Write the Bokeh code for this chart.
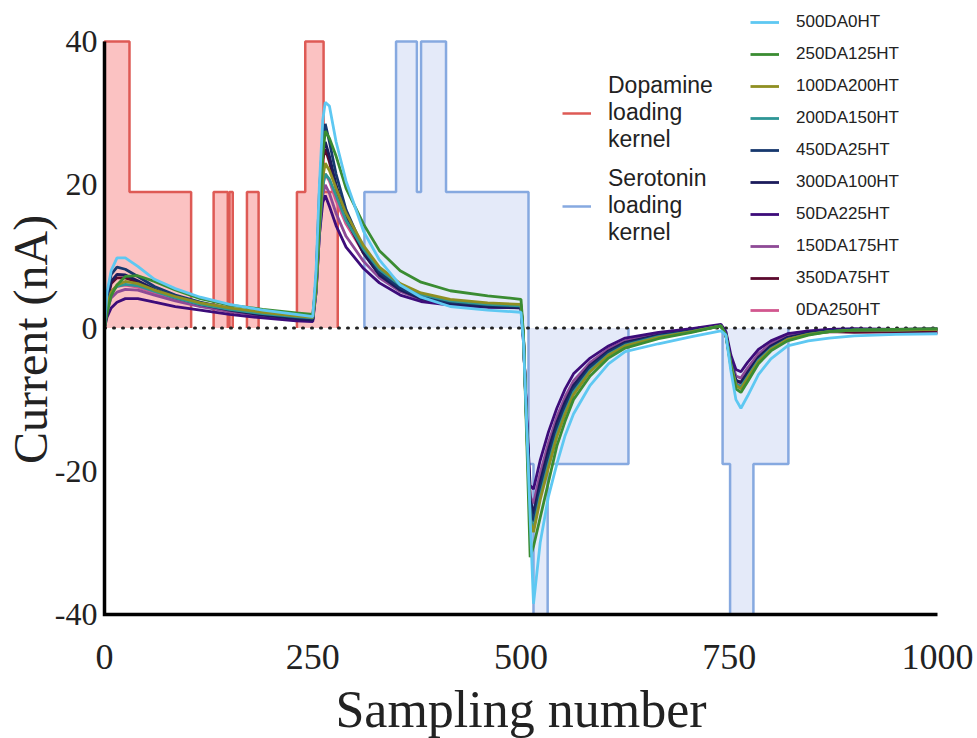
import math

from bokeh.embed import file_html
from bokeh.models import Label, Legend, LegendItem, Range1d
from bokeh.plotting import figure
from bokeh.resources import INLINE

# ---------------------------------------------------------------- data
# sampling positions at which each current trace is tabulated
SAMPLES = [0, 3, 8, 15, 25, 40, 60, 85, 115, 150,
           190, 230, 250, 254, 258, 262, 265, 270, 278, 290,
           311, 330, 355, 380, 415, 460, 500, 503, 507, 511,
           515, 523, 533, 543, 553, 563, 583, 605, 625, 665,
           705, 740, 746, 752, 758, 764, 772, 785, 800, 820,
           845, 870, 900, 950, 1000]

# current (nA) for each mixture, DA / 5-HT concentrations in the name
I_500DA0HT = [0, 5, 8, 9.8, 9.8, 8.6, 6.8, 5.5, 4.3, 3.3,
              2.5, 1.9, 1.6, 8, 20, 29, 31.5, 31, 26, 20.5,
              13.5, 9.5, 6, 4.3, 3, 2.5, 2.2, -2, -14, -26.5,
              -38.5, -30, -23.5, -19, -15, -12, -8, -5, -3.3, -2.2,
              -1.2, -0.4, -1, -6, -10, -11.2, -9.5, -6.5, -4.3, -2.5,
              -1.8, -1.4, -1.1, -0.9, -0.8]
I_250DA125HT = [0, 2, 4.5, 6, 7.2, 7.3, 6.5, 5.3, 4.1, 3.2,
                2.6, 2.1, 1.9, 6, 15, 24, 27.5, 26.5, 24, 19.5,
                14.5, 10.8, 8, 6.4, 5.2, 4.5, 4.0, -1, -16, -32,
                -30.5, -26.5, -21.5, -16.5, -13, -10, -6.7, -4.2, -2.8, -1.5,
                -0.6, 0.3, -1, -5.5, -8.5, -9, -7.5, -5, -3.2, -1.8,
                -1, -0.5, -0.3, -0.2, -0.1]
I_100DA200HT = [0, 3, 5, 6, 6.5, 6.2, 5.3, 4.4, 3.5, 2.8,
                2.2, 1.7, 1.5, 5.5, 14.5, 21, 23, 22, 19.5, 16,
                11.5, 8.5, 6.2, 4.9, 4.0, 3.5, 3.3, -1.2, -14.5, -27,
                -28.5, -24, -19.5, -15.2, -12, -9.3, -6.1, -3.8, -2.5, -1.3,
                -0.5, 0.3, -1, -5.2, -8, -8.5, -7, -4.7, -3, -1.6,
                -0.9, -0.5, -0.3, -0.3, -0.2]
I_200DA150HT = [0, 3, 5, 5.8, 6.1, 5.9, 5.1, 4.2, 3.3, 2.6,
                2.0, 1.6, 1.4, 5, 13.5, 19.8, 21.5, 20.8, 18.5, 15,
                11, 8.2, 6, 4.7, 3.8, 3.3, 3.1, -1.3, -14.5, -26.5,
                -28, -23.5, -19, -14.8, -11.7, -9, -5.9, -3.7, -2.4, -1.2,
                -0.5, 0.3, -1, -5, -7.8, -8.2, -6.8, -4.5, -2.9, -1.6,
                -0.9, -0.5, -0.3, -0.3, -0.2]
I_450DA25HT = [0, 4.5, 7.5, 8.5, 8.2, 7.2, 5.8, 4.6, 3.6, 2.7,
               2.0, 1.5, 1.3, 7, 19, 26.5, 28.5, 26, 21.5, 16.5,
               11, 7.8, 5.6, 4.3, 3.6, 3.2, 3.0, -1.5, -14, -25,
               -27, -22.5, -18, -14, -11, -8.5, -5.5, -3.4, -2.2, -1.1,
               -0.4, 0.3, -1, -5, -7.8, -8.3, -6.8, -4.5, -2.8, -1.5,
               -0.8, -0.4, -0.2, -0.2, -0.2]
I_300DA100HT = [0, 4, 6.5, 7.5, 7.4, 6.6, 5.4, 4.3, 3.3, 2.5,
                1.8, 1.3, 1.1, 6.5, 17.5, 24.5, 26, 24, 20, 15.5,
                10.5, 7.4, 5.3, 4.1, 3.4, 3.0, 2.8, -1.5, -13.5, -24,
                -26, -21.5, -17, -13.2, -10.3, -8, -5.2, -3.2, -2, -1,
                -0.4, 0.3, -1, -4.8, -7.3, -7.6, -6.2, -4.1, -2.5, -1.3,
                -0.7, -0.4, -0.3, -0.3, -0.2]
I_50DA225HT = [0, 1.5, 2.8, 3.6, 4.1, 4.1, 3.6, 3.0, 2.5, 1.9,
               1.4, 1.0, 0.9, 5, 13, 17.5, 18.5, 17, 14.3, 11.3,
               8.3, 6.3, 4.6, 3.7, 3.2, 2.9, 2.8, -2, -13, -22,
               -22.5, -18.5, -14.5, -11.2, -8.5, -6.4, -4.2, -2.5, -1.4, -0.6,
               -0.1, 0.5, -0.5, -3.8, -5.8, -6.1, -4.8, -3.0, -1.8, -0.8,
               -0.4, -0.2, -0.1, -0.2, -0.1]
I_150DA175HT = [0, 2.5, 4.2, 5, 5.4, 5.3, 4.6, 3.8, 3.0, 2.3,
                1.7, 1.3, 1.1, 5, 13, 18.5, 20, 18.8, 16, 12.8,
                9.3, 7, 5.1, 4.0, 3.4, 3.0, 2.9, -1.8, -13.5, -23.5,
                -24.5, -20.3, -16, -12.4, -9.6, -7.4, -4.8, -2.9, -1.8, -0.8,
                -0.3, 0.4, -0.7, -4.4, -6.7, -7, -5.6, -3.6, -2.2, -1.1,
                -0.6, -0.3, -0.2, -0.2, -0.2]
I_350DA75HT = [0, 3.8, 6.2, 7, 7, 6.4, 5.3, 4.2, 3.3, 2.5,
               1.9, 1.4, 1.2, 6.2, 16.8, 23.5, 25, 23.2, 19.5, 15.2,
               10.4, 7.4, 5.4, 4.2, 3.5, 3.1, 2.9, -1.5, -13.5, -24,
               -26, -21.5, -17.2, -13.4, -10.4, -8.1, -5.3, -3.3, -2.1, -1.0,
               -0.4, 0.3, -0.9, -4.8, -7.3, -7.6, -6.2, -4.1, -2.6, -1.4,
               -0.7, -0.5, -0.6, -0.5, -0.6]
I_0DA250HT = [0, 3.2, 5.2, 5.8, 6, 5.7, 4.9, 4.0, 3.2, 2.5,
              1.9, 1.5, 1.3, 5.2, 14, 20, 21.5, 20.5, 17.8, 14.5,
              10.5, 7.8, 5.7, 4.5, 3.7, 3.2, 3.0, -1.4, -14.2, -25.5,
              -27, -22.6, -18.2, -14.2, -11.1, -8.6, -5.6, -3.5, -2.3, -1.1,
              -0.5, 0.3, -0.9, -5, -7.6, -8, -6.6, -4.4, -2.8, -1.5,
              -0.8, -0.5, -0.5, -0.6, -0.7]

SERIES_NAMES = ["500DA0HT", "250DA125HT", "100DA200HT", "200DA150HT", "450DA25HT",
                "300DA100HT", "50DA225HT", "150DA175HT", "350DA75HT", "0DA250HT"]
SERIES_VALUES = [I_500DA0HT, I_250DA125HT, I_100DA200HT, I_200DA150HT, I_450DA25HT,
                 I_300DA100HT, I_50DA225HT, I_150DA175HT, I_350DA75HT, I_0DA250HT]
SERIES_COLORS = ["#5ec8f2", "#3a8c32", "#8f8f22", "#2e9696", "#17386e",
                 "#1c1c5c", "#3d0c7a", "#8e4a96", "#5c0a2e", "#d2578f"]

# loading kernels: level held from each edge to the next, back to 0 after the last edge
DA_KERNEL_EDGES = [0, 30, 104, 131, 148, 150, 154, 171, 185, 231, 241, 263, 280]
DA_KERNEL_LEVELS = [40, 19, 0, 19, 0, 19, 0, 19, 0, 19, 40, 19]
HT_KERNEL_EDGES = [312, 350, 375, 380, 410, 509, 515, 532, 629, 742, 751, 779, 821]
HT_KERNEL_LEVELS = [19, 40, 19, 40, 19, -19, -40, -19, 0, -19, -40, -19]

X_TICKS = [0, 250, 500, 750, 1000]
X_TICK_LABELS = ["0", "250", "500", "750", "1000"]
Y_TICKS = [-40, -20, 0, 20, 40]
Y_TICK_LABELS = ["-40", "-20", "0", "20", "40"]

SERIF = "Liberation Serif"
SANS = "Liberation Sans"
INK = "#222222"
NAN = float("nan")

# page geometry: the drawing area fills the page, the axes sit inside it
W, H = 977, 738
AX_LEFT, AX_RIGHT, AX_TOP, AX_BOTTOM = 104, 937, 41, 614
x_per_px = (X_TICKS[-1] - X_TICKS[0]) / (AX_RIGHT - AX_LEFT)
y_per_px = (Y_TICKS[-1] - Y_TICKS[0]) / (AX_BOTTOM - AX_TOP)
x_view = (X_TICKS[0] - AX_LEFT * x_per_px, X_TICKS[-1] + (W - AX_RIGHT) * x_per_px)
y_view = (Y_TICKS[0] - (H - AX_BOTTOM) * y_per_px, Y_TICKS[-1] + AX_TOP * y_per_px)


def kernel_polygon(edges, levels):
    """Closed step polygon between the kernel and the zero line."""
    xs, ys = [edges[0]], [0]
    for i, lv in enumerate(levels):
        xs += [edges[i], edges[i + 1]]
        ys += [lv, lv]
    xs.append(edges[-1])
    ys.append(0)
    return xs, ys


def kernel_outline(edges, levels):
    """Step outline, broken wherever the kernel rests at zero."""
    xs, ys = [], []
    prev = 0
    for i, lv in enumerate(levels):
        x0, x1 = edges[i], edges[i + 1]
        xs += [x0, x0]
        ys += [prev, lv]
        if lv == 0:
            xs.append(NAN)
            ys.append(NAN)
        else:
            xs.append(x1)
            ys.append(lv)
        prev = lv
    xs.append(edges[-1])
    ys.append(0)
    return xs, ys


p = figure(width=W, height=H,
           x_range=Range1d(*x_view), y_range=Range1d(*y_view),
           output_backend="svg", toolbar_location=None,
           min_border=0)
p.axis.visible = False
p.grid.visible = False
p.outline_line_color = None
p.background_fill_color = "white"

# kernel fills
da_px, da_py = kernel_polygon(DA_KERNEL_EDGES, DA_KERNEL_LEVELS)
p.patch(da_px, da_py, fill_color="#fbc2c2", line_color=None)
ht_px, ht_py = kernel_polygon(HT_KERNEL_EDGES, HT_KERNEL_LEVELS)
p.patch(ht_px, ht_py, fill_color="#e4eaf9", line_color=None)

# kernel outlines
da_lx, da_ly = kernel_outline(DA_KERNEL_EDGES, DA_KERNEL_LEVELS)
da_line = p.line(da_lx, da_ly, line_color="#de5a55", line_width=2.5)
ht_lx, ht_ly = kernel_outline(HT_KERNEL_EDGES, HT_KERNEL_LEVELS)
ht_line = p.line(ht_lx, ht_ly, line_color="#86a9e0", line_width=2.5)

# dotted zero line across the sampling range
p.line([X_TICKS[0], X_TICKS[-1]], [0, 0], line_color=INK, line_width=3,
       line_dash="1 8", line_cap="round")

# current traces, first legend entry drawn last (on top)
trace_renderers = {}
for name, vals, col in reversed(list(zip(SERIES_NAMES, SERIES_VALUES, SERIES_COLORS))):
    trace_renderers[name] = p.line(SAMPLES, vals, line_color=col, line_width=2.8)

# axis lines (left and bottom, meeting at the origin corner)
p.line([X_TICKS[0], X_TICKS[0], X_TICKS[-1]], [Y_TICKS[-1], Y_TICKS[0], Y_TICKS[0]],
       line_color="black", line_width=3.5, line_join="miter")

# tick labels
p.text(x=X_TICKS, y=[Y_TICKS[0]] * len(X_TICKS), text=X_TICK_LABELS,
       text_align="center", text_baseline="alphabetic", y_offset=42,
       text_font=SERIF, text_font_size="36px", text_color=INK)
p.text(x=[X_TICKS[0]] * len(Y_TICKS), y=Y_TICKS, text=Y_TICK_LABELS,
       text_align="right", text_baseline="alphabetic", x_offset=-7, y_offset=0,
       text_font=SERIF, text_font_size="32px", text_color=INK)

# axis titles
p.add_layout(Label(x=500, y=-53.3, text="Sampling number", text_align="center",
                   text_baseline="alphabetic", text_font=SERIF, text_font_size="52px",
                   text_color=INK))
p.add_layout(Label(x=-89.4, y=-1.6, text="Current (nA)", angle=math.pi / 2,
                   text_align="center", text_baseline="alphabetic", text_font=SERIF,
                   text_font_size="48px", text_color=INK))

# legends
series_legend = Legend(
    items=[LegendItem(label=n, renderers=[trace_renderers[n]]) for n in SERIES_NAMES],
    location=(750, 418), orientation="vertical",
    label_text_font=SANS, label_text_font_size="17px", label_text_color=INK,
    glyph_width=29, glyph_height=20, label_height=20, label_standoff=17,
    spacing=12, padding=0, margin=0,
    border_line_color=None, background_fill_alpha=0)
p.add_layout(series_legend)

kernel_legend = Legend(
    items=[LegendItem(label="Dopamine\nloading\nkernel", renderers=[da_line]),
           LegendItem(label="Serotonin\nloading\nkernel", renderers=[ht_line])],
    location=(562, 492), orientation="vertical",
    label_text_font=SANS, label_text_font_size="23px", label_text_color=INK,
    glyph_width=29, glyph_height=20, label_height=20, label_standoff=17,
    spacing=12, padding=0, margin=0,
    border_line_color=None, background_fill_alpha=0)
p.add_layout(kernel_legend)

open("out.html", "w").write(file_html(p, INLINE))
